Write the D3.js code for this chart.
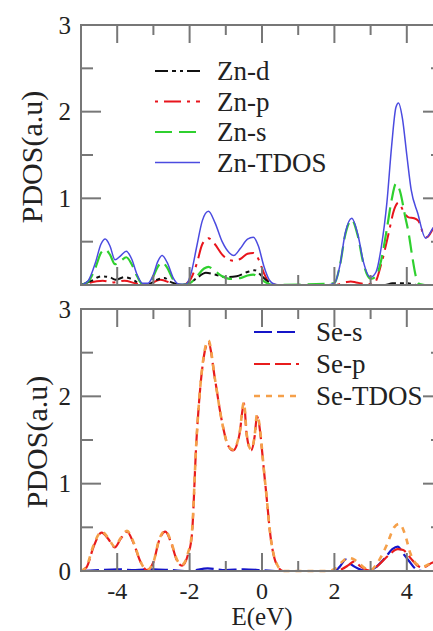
<!DOCTYPE html>
<html>
<head>
<meta charset="utf-8">
<script src="https://cdn.jsdelivr.net/npm/d3@7/dist/d3.min.js"></script>
<style>
  html, body { margin: 0; padding: 0; background: #fff; }
  svg { display: block; }
</style>
</head>
<body>
<svg id="chart" width="433" height="631"></svg>
<script>
// ---------- data (energy in eV, PDOS in a.u.) ----------
const xTicks = [-4, -2, 0, 2, 4];
const yTicksTop = [1, 2, 3];
const yTicksBottom = [0, 1, 2, 3];
const xLabel = "E(eV)";
const yLabel = "PDOS(a.u)";

const znD = [[-5,0],[-4.7,0.05],[-4.45,0.1],[-4.2,0.09],[-4.05,0.06],[-3.8,0.09],[-3.6,0.07],[-3.4,0.02],[-3.2,0],
  [-2.9,0.06],[-2.7,0.08],[-2.5,0.03],[-2.2,0],[-2.0,0.02],[-1.8,0.08],[-1.55,0.14],[-1.3,0.12],[-1.0,0.09],
  [-0.7,0.1],[-0.4,0.15],[-0.2,0.17],[0.0,0.1],[0.2,0.03],[0.4,0],[3.4,0],[3.6,0.02],[4.0,0.02],[4.3,0],[5,0]];

const znP = [[-5,0],[-4.6,0.04],[-4.4,0.05],[-4.1,0.03],[-3.8,0.05],[-3.5,0.02],[-3.2,0],[-2.8,0.06],[-2.5,0.02],
  [-2.2,0],[-2.0,0.05],[-1.8,0.25],[-1.65,0.47],[-1.48,0.54],[-1.3,0.47],[-1.1,0.35],[-0.9,0.29],[-0.78,0.28],
  [-0.6,0.3],[-0.4,0.36],[-0.24,0.37],[-0.1,0.3],[0.05,0.14],[0.2,0.03],[0.4,0],[2.0,0],[2.3,0.03],[2.45,0.04],
  [2.6,0.03],[2.9,0.01],[3.1,0.02],[3.3,0.25],[3.5,0.6],[3.65,0.87],[3.77,0.95],[3.92,0.84],[4.05,0.78],
  [4.2,0.77],[4.32,0.74],[4.45,0.6],[4.55,0.55],[4.75,0.66],[5,0.71]];

const znS = [[-5,0],[-4.8,0.04],[-4.6,0.2],[-4.45,0.37],[-4.33,0.41],[-4.2,0.35],[-4.06,0.24],[-3.9,0.28],
  [-3.75,0.32],[-3.6,0.24],[-3.45,0.1],[-3.3,0.01],[-3.15,0.01],[-3.0,0.1],[-2.88,0.21],[-2.76,0.26],[-2.62,0.2],
  [-2.45,0.06],[-2.3,0],[-2.0,0.02],[-1.8,0.1],[-1.6,0.19],[-1.48,0.21],[-1.3,0.16],[-1.1,0.1],[-0.9,0.07],
  [-0.6,0.08],[-0.4,0.11],[-0.24,0.12],[-0.1,0.09],[0.1,0.03],[0.3,0],[2.0,0.02],[2.15,0.22],[2.3,0.58],
  [2.48,0.75],[2.65,0.56],[2.8,0.25],[3.0,0.07],[3.15,0.1],[3.3,0.3],[3.45,0.65],[3.58,0.98],[3.7,1.17],
  [3.82,1.07],[3.95,0.8],[4.05,0.6],[4.15,0.33],[4.25,0.1],[4.35,0.01],[4.5,0],[5,0]];

const znTdos = [[-5,0],[-4.8,0.05],[-4.6,0.26],[-4.45,0.47],[-4.33,0.53],[-4.2,0.45],[-4.06,0.29],[-3.9,0.34],
  [-3.75,0.39],[-3.6,0.3],[-3.45,0.12],[-3.3,0.02],[-3.15,0.02],[-3.0,0.12],[-2.88,0.27],[-2.76,0.34],[-2.62,0.26],
  [-2.45,0.08],[-2.3,0.01],[-2.1,0.01],[-1.95,0.15],[-1.8,0.45],[-1.65,0.74],[-1.48,0.85],[-1.3,0.72],[-1.1,0.5],
  [-0.9,0.37],[-0.78,0.34],[-0.6,0.42],[-0.4,0.53],[-0.24,0.55],[-0.1,0.45],[0.05,0.22],[0.2,0.06],[0.35,0.01],
  [0.6,0],[1.8,0],[2.0,0.02],[2.15,0.22],[2.3,0.6],[2.48,0.77],[2.65,0.58],[2.8,0.27],[3.0,0.09],[3.15,0.15],
  [3.3,0.45],[3.45,0.95],[3.58,1.6],[3.7,2.05],[3.77,2.1],[3.88,1.92],[4.0,1.5],[4.12,1.1],[4.3,0.83],
  [4.52,0.54],[4.75,0.67],[5,0.72]];

const seS = [[-5,0],[-4.5,0.01],[-4.0,0.02],[-3.5,0.01],[-3.0,0.02],[-2.5,0.01],[-2.0,0],[-1.5,0.03],[-1.0,0.01],
  [-0.5,0.02],[0.0,0.01],[0.5,0],[2.0,0],[2.15,0.05],[2.31,0.13],[2.45,0.08],[2.65,0.03],[2.9,0],[3.1,0.03],
  [3.4,0.15],[3.6,0.25],[3.75,0.28],[3.9,0.2],[4.05,0.12],[4.3,0.01],[4.5,0],[5,0]];

const seP = [[-5,0],[-4.85,0.04],[-4.65,0.28],[-4.43,0.44],[-4.25,0.37],[-4.07,0.27],[-3.9,0.37],[-3.73,0.45],
  [-3.55,0.32],[-3.35,0.1],[-3.18,0.01],[-3.0,0.1],[-2.85,0.34],[-2.67,0.45],[-2.5,0.31],[-2.35,0.12],
  [-2.21,0.06],[-2.05,0.18],[-1.94,0.4],[-1.81,1.5],[-1.67,2.25],[-1.48,2.62],[-1.3,2.2],[-1.12,1.74],
  [-0.94,1.44],[-0.8,1.38],[-0.62,1.57],[-0.5,1.92],[-0.42,1.55],[-0.3,1.38],[-0.2,1.55],[-0.14,1.77],
  [0.09,1.0],[0.25,0.35],[0.41,0.07],[0.58,0],[2.0,0],[2.2,0.02],[2.4,0.07],[2.55,0.11],[2.7,0.06],[2.9,0.01],
  [3.0,0],[3.2,0.06],[3.5,0.18],[3.75,0.25],[3.9,0.24],[4.1,0.15],[4.3,0.06],[4.45,0.04],[4.75,0.1],[5,0.08]];

const seTdos = [[-5,0],[-4.85,0.05],[-4.65,0.3],[-4.43,0.45],[-4.25,0.38],[-4.07,0.28],[-3.9,0.38],[-3.73,0.46],
  [-3.55,0.33],[-3.35,0.1],[-3.18,0.01],[-3.0,0.1],[-2.85,0.35],[-2.67,0.46],[-2.5,0.32],[-2.35,0.13],
  [-2.21,0.07],[-2.05,0.2],[-1.94,0.42],[-1.81,1.5],[-1.67,2.26],[-1.48,2.64],[-1.3,2.2],[-1.12,1.74],
  [-0.94,1.44],[-0.8,1.39],[-0.62,1.58],[-0.5,1.93],[-0.42,1.56],[-0.3,1.39],[-0.2,1.56],[-0.14,1.79],
  [0.09,1.0],[0.25,0.35],[0.41,0.08],[0.58,0],[1.8,0],[2.0,0.02],[2.2,0.1],[2.38,0.15],[2.55,0.13],[2.7,0.08],
  [2.9,0.02],[3.0,0.01],[3.2,0.1],[3.45,0.3],[3.65,0.5],[3.8,0.54],[3.95,0.42],[4.1,0.2],[4.3,0.07],
  [4.45,0.05],[4.75,0.1],[5,0.08]];

// series tables built from the arrays above
const topSeries = [
  { name: "Zn-d",    data: znD,    color: "#111111", width: 2,   dash: "13,4,4,4,3,4" },
  { name: "Zn-p",    data: znP,    color: "#e8141c", width: 2,   dash: "3,6,17,6" },
  { name: "Zn-s",    data: znS,    color: "#2fd02f", width: 2.2, dash: "17,7" },
  { name: "Zn-TDOS", data: znTdos, color: "#4b4be0", width: 1.5, dash: null }
];
const bottomSeries = [
  { name: "Se-s",    data: seS,    color: "#1515c8", width: 2.2, dash: "18,5" },
  { name: "Se-p",    data: seP,    color: "#e81c1c", width: 2.2, dash: "16,5" },
  { name: "Se-TDOS", data: seTdos, color: "#f5a04a", width: 2.6, dash: "6,6" }
];

// ---------- layout ----------
const FONT = "'Liberation Serif', 'Times New Roman', Times, 'DejaVu Serif', serif";
const svg = d3.select("#chart").attr("font-family", FONT);
const left = 81, right = 443;
const x = d3.scaleLinear().domain([-5, 5]).range([left, right]);
const frameColor = "#777";
const txtColor = "#222";

function panel(top, bottom, series, yTicks, legendPos, order, yLabelX) {
  const y = d3.scaleLinear().domain([0, 3]).range([bottom, top]);
  const g = svg.append("g");

  // curves
  const line = d3.line().x(d => x(d[0])).y(d => y(d[1])).curve(d3.curveMonotoneX);
  order.forEach(i => {
    const s = series[i];
    g.append("path").datum(s.data)
      .attr("d", line)
      .attr("fill", "none")
      .attr("stroke", s.color)
      .attr("stroke-width", s.width)
      .attr("stroke-dasharray", s.dash)
      .attr("stroke-linejoin", "round");
  });

  // frame
  g.append("rect").attr("x", left).attr("y", top)
    .attr("width", right - left).attr("height", bottom - top)
    .attr("fill", "none").attr("stroke", frameColor).attr("stroke-width", 2);

  // ticks (inward, all four sides)
  const xMajor = d3.range(-4, 5, 2), xMinor = d3.range(-3, 5, 2);
  const yMajor = [1, 2], yMinor = [0.5, 1.5, 2.5];
  const tk = (x1, y1, x2, y2) => g.append("line").attr("x1", x1).attr("y1", y1).attr("x2", x2).attr("y2", y2)
      .attr("stroke", frameColor).attr("stroke-width", 2);
  xMajor.forEach(v => { tk(x(v), top, x(v), top + 18); tk(x(v), bottom, x(v), bottom - 18); });
  xMinor.forEach(v => { tk(x(v), top, x(v), top + 10); tk(x(v), bottom, x(v), bottom - 10); });
  yMajor.forEach(v => { tk(left, y(v), left + 20, y(v)); tk(right, y(v), right - 20, y(v)); });
  yMinor.forEach(v => { tk(left, y(v), left + 12, y(v)); tk(right, y(v), right - 12, y(v)); });

  // y tick labels
  g.selectAll(".ylab").data(yTicks).enter().append("text")
    .attr("x", left - 10).attr("y", d => y(d))
    .attr("dy", "0.35em").attr("text-anchor", "end")
    .attr("font-family", FONT).attr("fill", txtColor)
    .attr("font-size", 25).text(d => d3.format("d")(d));

  // y axis title
  g.append("text")
    .attr("transform", `translate(${yLabelX},${(top + bottom) / 2 + 2}) rotate(-90)`)
    .attr("text-anchor", "middle").attr("font-family", FONT).attr("fill", txtColor)
    .attr("font-size", 30).text(yLabel);

  // legend
  series.forEach((s, i) => {
    const ly = legendPos.y + i * legendPos.dy;
    g.append("line").attr("x1", legendPos.x).attr("x2", legendPos.x + 45)
      .attr("y1", ly).attr("y2", ly)
      .attr("stroke", s.color).attr("stroke-width", s.width)
      .attr("stroke-dasharray", s.dash);
    g.append("text").attr("x", legendPos.x + 62).attr("y", ly).attr("dy", "0.35em")
      .attr("font-family", FONT).attr("fill", txtColor)
      .attr("font-size", 27).text(s.name);
  });
  return y;
}

panel(25, 285, topSeries, yTicksTop, { x: 155, y: 71, dy: 30.5 }, [1, 0, 2, 3], 42);
panel(309, 571, bottomSeries, yTicksBottom, { x: 254, y: 332, dy: 32 }, [0, 1, 2], 47);

// x tick labels (bottom panel only)
svg.selectAll(".xlab").data(xTicks).enter().append("text")
  .attr("x", d => x(d)).attr("y", 599)
  .attr("text-anchor", "middle").attr("font-size", 24)
  .attr("font-family", FONT).attr("fill", txtColor)
  .text(d => d < 0 ? "-" + Math.abs(d) : String(d));

svg.append("text").attr("x", x(0)).attr("y", 625)
  .attr("text-anchor", "middle").attr("font-size", 25)
  .attr("font-family", FONT).attr("fill", txtColor).text(xLabel);
</script>
</body>
</html>
